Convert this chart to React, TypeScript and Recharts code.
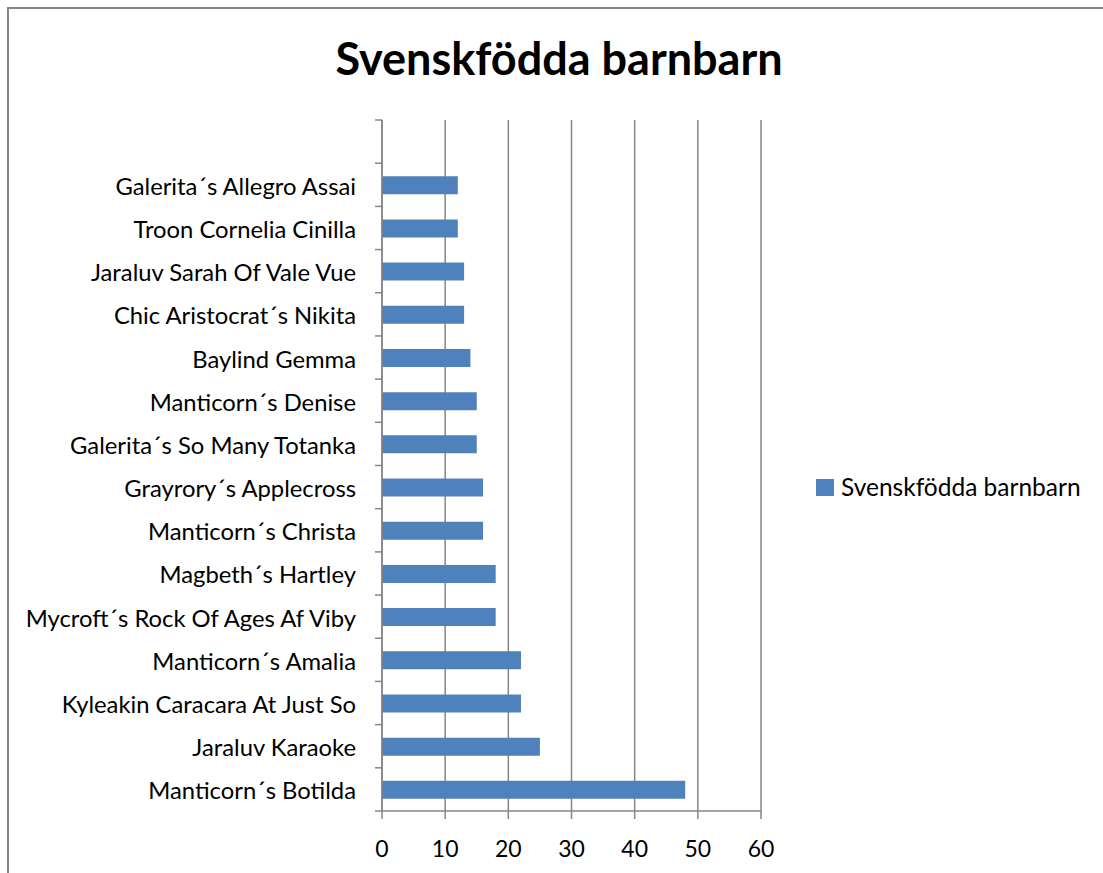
import React from 'react';
import { BarChart, Bar, XAxis, YAxis, CartesianGrid, Legend } from 'recharts';

const categories = [
  '',
  'Galerita´s Allegro Assai',
  'Troon Cornelia Cinilla',
  'Jaraluv Sarah Of Vale Vue',
  'Chic Aristocrat´s Nikita',
  'Baylind Gemma',
  'Manticorn´s Denise',
  'Galerita´s So Many Totanka',
  'Grayrory´s Applecross',
  'Manticorn´s Christa',
  'Magbeth´s Hartley',
  'Mycroft´s Rock Of Ages Af Viby',
  'Manticorn´s Amalia',
  'Kyleakin Caracara At Just So',
  'Jaraluv Karaoke',
  'Manticorn´s Botilda',
];
const values: (number | null)[] = [null, 12, 12, 13, 13, 14, 15, 15, 16, 16, 18, 18, 22, 22, 25, 48];
const xTicks = [0, 10, 20, 30, 40, 50, 60];
const seriesName = 'Svenskfödda barnbarn';
const title = 'Svenskfödda barnbarn';

const data = categories.map((name, i) => ({ name, value: values[i] }));

const AXIS = '#868686';
const FONT = 'Lato, "Open Sans", sans-serif';

const CategoryTick = (props: any) => {
  const { x, y, payload, index } = props;
  const off = payload && payload.offset ? payload.offset : 0;
  const last = index === categories.length - 1;
  return (
    <g>
      <line x1={x - 7} x2={x} y1={y - off} y2={y - off} stroke={AXIS} strokeWidth={1.5} />
      {last && <line x1={x - 7} x2={x} y1={y + off} y2={y + off} stroke={AXIS} strokeWidth={1.5} />}
      <text x={x - 26} y={y} dy={10} textAnchor="end" fill="#000" fontSize={23.8} fontFamily={FONT}>
        {payload.value}
      </text>
    </g>
  );
};

const LegendContent = (props: any) => {
  const { payload } = props;
  return (
    <div style={{ display: 'flex', alignItems: 'center' }}>
      {(payload || []).map((p: any, i: number) => (
        <div key={i} style={{ display: 'flex', alignItems: 'center' }}>
          <svg width={18} height={17} style={{ marginRight: 7 }}>
            <rect x={0} y={0} width={18} height={17} fill={p.color} />
          </svg>
          <span style={{ color: '#000', fontSize: 24.5, fontFamily: FONT, lineHeight: '28px' }}>{p.value}</span>
        </div>
      ))}
    </div>
  );
};

export default function App() {
  return (
    <div style={{ position: 'fixed', left: 0, top: 0, width: 1103, height: 873, overflow: 'hidden', background: '#fff', fontFamily: FONT }}>
      <div style={{ position: 'absolute', left: 7, top: 7, width: 1300, height: 1100, borderTop: `2px solid ${AXIS}`, borderLeft: `2px solid ${AXIS}` }} />
      <div style={{ position: 'absolute', left: 0, width: 1118, top: 32, textAlign: 'center', fontSize: 45, fontWeight: 700, color: '#000', lineHeight: '52px' }}>
        {title}
      </div>
      <div style={{ position: 'absolute', left: 0, top: 0 }}>
        <BarChart width={1103} height={873} layout="vertical" data={data} margin={{ top: 120, right: 342, bottom: 0, left: 0 }} barSize={18}>
          <CartesianGrid horizontal={false} vertical stroke={AXIS} strokeWidth={1.5} />
          <XAxis
            type="number"
            domain={[0, 60]}
            ticks={xTicks}
            height={62}
            interval={0}
            stroke={AXIS}
            axisLine={{ stroke: AXIS, strokeWidth: 1.5 }}
            tickLine={{ stroke: AXIS, strokeWidth: 1.5 }}
            tickSize={8}
            tickMargin={22}
            tick={{ fill: '#000', fontSize: 23, fontFamily: FONT }}
          />
          <YAxis
            type="category"
            dataKey="name"
            width={382}
            interval={0}
            axisLine={{ stroke: AXIS, strokeWidth: 1.5 }}
            tickLine={false}
            tickSize={0}
            tickMargin={0}
            tick={<CategoryTick />}
          />
          <Legend
            layout="horizontal"
            verticalAlign="middle"
            align="center"
            wrapperStyle={{ left: 816, top: 473, width: 287 }}
            content={<LegendContent />}
          />
          <Bar dataKey="value" name={seriesName} fill="#4F81BD" isAnimationActive={false} />
        </BarChart>
      </div>
    </div>
  );
}
